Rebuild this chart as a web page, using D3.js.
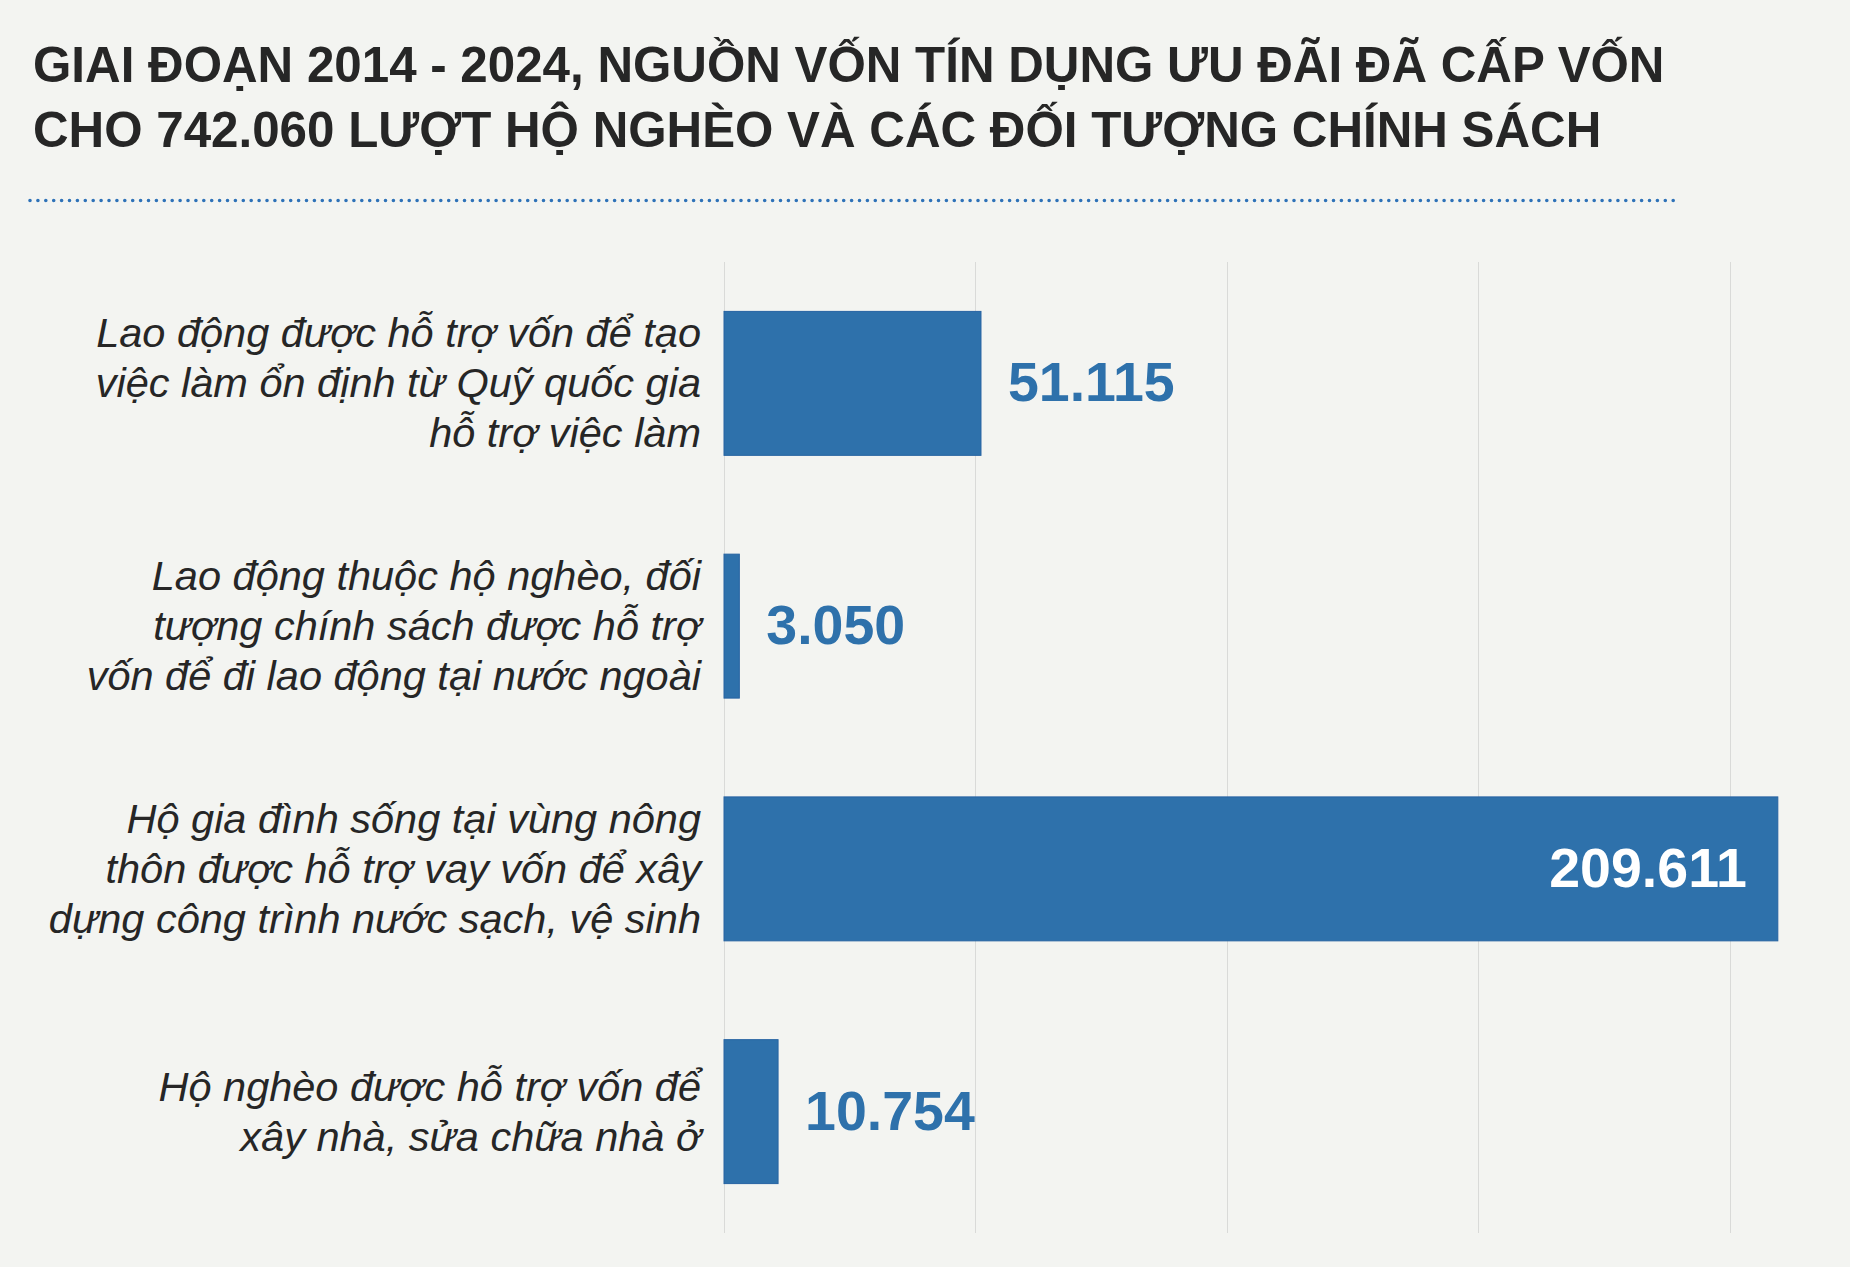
<!DOCTYPE html>
<html>
<head>
<meta charset="utf-8">
<script src="https://cdn.jsdelivr.net/npm/d3@7"></script>
<style>
  html, body { margin: 0; padding: 0; background: #f3f4f1; }
  svg { display: block; }
</style>
</head>
<body>
<svg id="chart" width="1850" height="1267"></svg>
<script>
// ---- data ----
const titleLines = [
  "GIAI ĐOẠN 2014 - 2024, NGUỒN VỐN TÍN DỤNG ƯU ĐÃI ĐÃ CẤP VỐN",
  "CHO 742.060 LƯỢT HỘ NGHÈO VÀ CÁC ĐỐI TƯỢNG CHÍNH SÁCH"
];
const categories = [
  ["Lao động được hỗ trợ vốn để tạo", "việc làm ổn định từ Quỹ quốc gia", "hỗ trợ việc làm"],
  ["Lao động thuộc hộ nghèo, đối", "tượng chính sách được hỗ trợ", "vốn để đi lao động tại nước ngoài"],
  ["Hộ gia đình sống tại vùng nông", "thôn được hỗ trợ vay vốn để xây", "dựng công trình nước sạch, vệ sinh"],
  ["Hộ nghèo được hỗ trợ vốn để", "xây nhà, sửa chữa nhà ở"]
];
const values = [51115, 3050, 209611, 10754];
const valueLabels = ["51.115", "3.050", "209.611", "10.754"];
const gridTicks = [0, 50000, 100000, 150000, 200000];

// ---- layout ----
const svg = d3.select("#chart");
const W = 1850, H = 1267;
svg.append("rect").attr("width", W).attr("height", H).attr("fill", "#f3f4f1");

const font = "'Liberation Sans', Arial, Helvetica, sans-serif";

// title
svg.append("g").selectAll("text").data(titleLines).join("text")
  .attr("x", 33)
  .attr("y", (d, i) => 82 + i * 65)
  .attr("font-family", font)
  .attr("font-weight", "bold")
  .attr("font-size", 49.3)
  .attr("fill", "#262626")
  .text(d => d);

// dotted rule
svg.append("line")
  .attr("x1", 30).attr("x2", 1676)
  .attr("y1", 200.5).attr("y2", 200.5)
  .attr("stroke", "#2e72b8")
  .attr("stroke-width", 3.6)
  .attr("stroke-linecap", "round")
  .attr("stroke-dasharray", "0 7.9");

const x = d3.scaleLinear().domain([0, 200000]).range([724, 1729.5]);
const idx = d3.range(categories.length);
const y = d3.scaleBand().domain(idx).range([262, 1233]).paddingInner(0.407).paddingOuter(0.2035);

// gridlines
svg.append("g").selectAll("line").data(gridTicks).join("line")
  .attr("x1", d => Math.round(x(d)) + 0.5).attr("x2", d => Math.round(x(d)) + 0.5)
  .attr("y1", 262).attr("y2", 1233)
  .attr("stroke", "#d9dad8")
  .attr("stroke-width", 1);

// bars
svg.append("g").selectAll("rect").data(idx).join("rect")
  .attr("x", x(0))
  .attr("y", i => y(i))
  .attr("width", i => x(values[i]) - x(0))
  .attr("height", y.bandwidth())
  .attr("fill", "#2e71ab")
  .attr("stroke", "#2663a2")
  .attr("stroke-width", 1);

// category labels
const lineH = 50;
const labG = svg.append("g");
idx.forEach(i => {
  const lines = categories[i];
  const cy = y(i) + y.bandwidth() / 2;
  const firstBase = cy + 14 - (lines.length - 1) * lineH / 2;
  const t = labG.append("text")
    .attr("text-anchor", "end")
    .attr("font-family", font)
    .attr("font-style", "italic")
    .attr("font-size", 41.5)
    .attr("fill", "#262626");
  lines.forEach((ln, k) => {
    t.append("tspan").attr("x", 701).attr("y", firstBase + k * lineH).text(ln);
  });
});

// value labels
svg.append("g").selectAll("text").data(idx).join("text")
  .attr("font-family", font)
  .attr("font-weight", "bold")
  .attr("font-size", 55.5)
  .attr("y", i => y(i) + y.bandwidth() / 2 + 18)
  .attr("x", i => values[i] > 150000 ? x(values[i]) - 31 : x(values[i]) + 27)
  .attr("text-anchor", i => values[i] > 150000 ? "end" : "start")
  .attr("fill", i => values[i] > 150000 ? "#ffffff" : "#2e71ab")
  .text(i => valueLabels[i]);
</script>
</body>
</html>
